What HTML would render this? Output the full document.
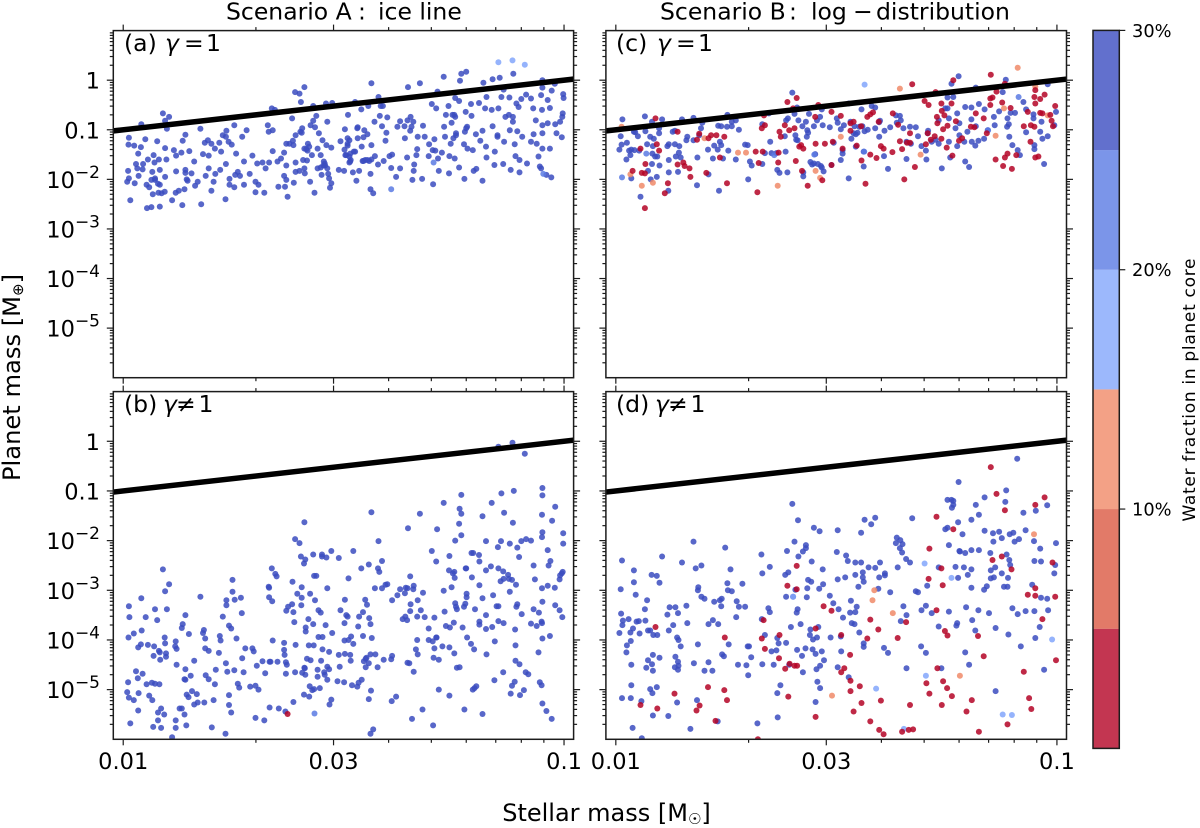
<!DOCTYPE html>
<html lang="en">
<head>
<meta charset="utf-8">
<title>Planet mass versus stellar mass</title>
<style>
html,body{margin:0;padding:0;background:#fff;}
svg{display:block;font-family:"DejaVu Sans","Liberation Sans",sans-serif;fill:#000;}
</style>
</head>
<body>
<svg id="chart" width="1200" height="828" viewBox="0 0 1200 828" xmlns="http://www.w3.org/2000/svg">
<defs id="clips"></defs>
<g id="panels"></g>
<text y="19.5" font-size="23.5"><tspan x="226">Scenario A</tspan><tspan x="358">:</tspan><tspan x="378">ice line</tspan></text>
<text y="19.5" font-size="23.5"><tspan x="660">Scenario B</tspan><tspan x="789">:</tspan><tspan x="811">log</tspan><tspan x="853">−</tspan><tspan x="876">distribution</tspan></text>
<text y="51" font-size="23.5"><tspan x="124">(a)</tspan><tspan x="165" font-style="italic">γ</tspan><tspan x="184">=</tspan><tspan x="206">1</tspan></text>
<text y="412" font-size="23.5"><tspan x="124">(b)</tspan><tspan x="163" font-style="italic">γ</tspan><tspan x="176">≠</tspan><tspan x="198.5">1</tspan></text>
<text y="51" font-size="23.5"><tspan x="616">(c)</tspan><tspan x="657" font-style="italic">γ</tspan><tspan x="676">=</tspan><tspan x="698">1</tspan></text>
<text y="412" font-size="23.5"><tspan x="616">(d)</tspan><tspan x="655" font-style="italic">γ</tspan><tspan x="668">≠</tspan><tspan x="690.5">1</tspan></text>
<text transform="translate(20,377.5) rotate(-90)" font-size="24.2" text-anchor="middle">Planet mass [M<tspan font-size="15" dy="3">⊕</tspan><tspan dy="-3">]</tspan></text>
<text x="606.5" y="821" font-size="24" text-anchor="middle">Stellar mass [M<tspan font-size="15" dy="3">☉</tspan><tspan dy="-3">]</tspan></text>
<g id="colorbar"></g>
<text transform="translate(1195,390) rotate(-90)" font-size="17" text-anchor="middle" textLength="263">Water fraction in planet core</text>
</svg>
<script>
// Each point is [decades above 0.01 solar masses, log10(planet mass in Earth masses)].
const panelADeep = [[.009,-2.05],[.011,-1.83],[.013,-1.98],[.013,-1.16],[.012,-1.30],[.016,-2.42],[.025,-1.32],[.026,-2.08],[.029,-1.69],[.032,-1.78],[.034,-1.48],[.035,-1.93],[.04,-1.35],[.041,-.89],[.044,-1.80],[.045,-1.69],[.05,-1.19],[.054,-2.58],[.056,-1.60],[.053,-2.11],[.059,-2.16],[.064,-2.01],[.064,-2.56],[.066,-1.85],[.067,-2.30],[.069,-1.51],[.071,-1.66],[.072,-1.98],[.077,-1.23],[.079,-2.09],[.083,-1.81],[.083,-2.55],[.081,-1.60],[.087,-2.28],[.09,-.67],[.094,-2.25],[.095,-1.37],[.095,-.82],[.095,-1.95],[.099,-.98],[.098,-1.60],[.104,-.74],[.111,-2.42],[.115,-1.41],[.12,-1.84],[.119,-2.27],[.12,-1.52],[.126,-2.23],[.134,-2.52],[.135,-1.22],[.132,-1.46],[.141,-1.10],[.141,-1.81],[.144,-2.0],[.139,-2.2],[.15,-1.43],[.155,-1.88],[.161,-1.64],[.163,-2.13],[.169,-2.05],[.175,-.98],[.177,-2.5],[.181,-1.49],[.185,-1.26],[.187,-1.93],[.194,-1.52],[.192,-1.21],[.2,-2.23],[.2,-1.28],[.194,-1.78],[.205,-2.05],[.209,-1.89],[.208,-1.38],[.22,-1.81],[.218,-1.26],[.222,-1.44],[.226,-1.11],[.233,-1.69],[.234,-1.02],[.232,-2.4],[.233,-1.14],[.239,-1.24],[.241,-1.99],[.246,-1.30],[.241,-2.11],[.252,-.91],[.252,-2.16],[.256,-1.48],[.254,-1.91],[.26,-1.85],[.265,-1.93],[.27,-1.14],[.274,-1.64],[.274,-2.11],[.28,-1.01],[.287,-1.89],[.293,-1.52],[.3,-2.05],[.3,-2.26],[.304,-1.68],[.307,-2.11],[.316,-1.66],[.32,-2.27],[.323,-1.78],[.328,-.91],[.331,-1.66],[.33,-1.04],[.339,-1.01],[.339,-1.43],[.337,-.57],[.344,-.6],[.35,-1.64],[.352,-2.15],[.358,-1.58],[.367,-2.15],[.365,-1.93],[.365,-1.46],[.37,-1.28],[.37,-1.72],[.373,-2.35],[.377,-1.28],[.37,-2.01],[.385,-1.22],[.383,-.77],[.386,-1.31],[.387,-2.07],[.39,-.24],[.4,-.27],[.411,-.14],[.403,-.44],[.391,-1.66],[.391,-1.85],[.391,-1.11],[.4,-1.83],[.402,-1.04],[.406,-.97],[.405,-1.06],[.408,-1.61],[.411,-1.78],[.412,-1.88],[.415,-1.39],[.417,-1.62],[.419,-1.28],[.422,-1.34],[.424,-2.05],[.425,-.91],[.428,-1.51],[.431,-.82],[.431,-.52],[.434,-2.27],[.435,-.95],[.438,-.72],[.441,-1.78],[.441,-1.38],[.444,-1.07],[.448,-1.76],[.448,-1.51],[.45,-1.91],[.452,-1.21],[.454,-1.72],[.457,-1.68],[.461,-1.31],[.463,-.84],[.46,-.47],[.463,-1.78],[.465,-1.89],[.467,-1.98],[.469,-2.17],[.472,-2.08],[.472,-1.36],[.474,-.46],[.489,-1.81],[.493,-1.23],[.501,-1.83],[.503,-.99],[.502,-1.40],[.506,-1.51],[.509,-1.17],[.51,-.7],[.513,-1.54],[.515,-1.64],[.521,-1.86],[.523,-1.44],[.526,-.44],[.529,-2.03],[.531,-.97],[.535,-1.83],[.541,-1.34],[.54,-.59],[.543,-1.63],[.545,-1.15],[.549,-1.61],[.547,-1.01],[.554,-1.09],[.556,-.52],[.558,-1.63],[.563,-1.31],[.563,-.06],[.561,-2.2],[.567,-2.28],[.561,-1.89],[.571,-1.53],[.57,-.84],[.579,-.34],[.578,-1.70],[.582,-.72],[.587,-.93],[.584,-.52],[.591,-1.63],[.595,-1.22],[.599,-.75],[.597,-1.06],[.604,-1.53],[.608,-1.77],[.61,-1.5],[.619,-1.95],[.622,-.94],[.628,-1.78],[.628,-.83],[.638,-.93],[.639,-1.17],[.644,-1.56],[.646,-.14],[.645,-.81],[.651,-1.02],[.652,-.74],[.658,-.84],[.66,-1.7],[.656,-2.01],[.659,-1.83],[.665,-1.51],[.667,-1.39],[.673,-.06],[.668,-1.14],[.68,-.92],[.678,-1.99],[.684,-1.14],[.693,-1.53],[.694,-1.29],[.7,-.48],[.702,-1.41],[.703,-2.1],[.706,-1.19],[.71,-.57],[.713,-.23],[.714,-1.58],[.716,-1.83],[.723,-1.46],[.727,.07],[.728,-.94],[.73,-1.14],[.732,-.7],[.739,-1.88],[.74,-1.53],[.738,-.52],[.743,-1.28],[.745,-.86],[.751,-.7],[.753,-.36],[.752,-1.58],[.755,-1.07],[.762,-.42],[.767,.13],[.778,.17],[.764,-.01],[.762,-1.76],[.773,-1.29],[.774,-1.99],[.777,-.64],[.78,-.94],[.781,-1.38],[.789,-.48],[.793,-1.41],[.795,-1.83],[.8,-1.09],[.79,-.72],[.801,-1.79],[.807,-.46],[.81,-1.22],[.815,-1.02],[.815,-2.03],[.817,-.05],[.821,-.57],[.823,-1.34],[.824,-.34],[.824,-1.56],[.836,-.6],[.838,-.93],[.838,.02],[.843,-1.44],[.842,-1.71],[.849,-1.11],[.851,-.57],[.854,.05],[.858,-.34],[.862,-1.69],[.863,-.19],[.864,-1.24],[.867,-.74],[.876,-.35],[.877,-1.01],[.885,.13],[.888,-1.29],[.892,-.47],[.894,-1.03],[.884,-.84],[.879,-1.81],[.89,-1.53],[.897,-.54],[.899,-1.61],[.903,-.38],[.905,-1.14],[.899,-1.86],[.914,-.29],[.916,-1.68],[.925,-.37],[.925,-1.24],[.93,-.57],[.931,-1.09],[.938,-1.28],[.936,-.81],[.942,-1.54],[.945,-1.74],[.948,-1.78],[.951,0],[.951,-.15],[.948,-.3],[.95,-.6],[.951,-.91],[.951,-1.07],[.951,-1.38],[.96,-1.91],[.963,-.4],[.963,-.87],[.968,-.56],[.968,-1.38],[.971,-1.96],[.972,-.21],[.98,-.89],[.979,-.07],[.983,-1.07],[.991,-.84],[.996,-.74],[.995,-1.15],[.997,-.67],[.998,-.28],[.999,-.36],[.753,-.74],[.747,-.7],[.589,-.52],[.654,-.94],[.708,-1.42],[.749,-1.17],[.755,-1.11],[.775,-1.04],[.778,-.97],[.884,-.74],[.875,-.7],[.532,-.95],[.532,-1.17],[.513,-1.21],[.509,-1.28],[.509,-1.32],[.504,-1.51],[.515,-1.48],[.516,-1.61],[.513,-1.66],[.526,-1.44],[.411,-1.38],[.418,-1.42],[.458,-1.72],[.455,-1.64],[.072,-2.01],[.083,-2.11],[.08,-2.27],[.141,-1.87],[.146,-2.03],[.545,-1.63],[.554,-1.61],[.563,-1.6],[.849,-1.14]];
const panelAMid = [[.608,-2.2],[.953,-1.89],[.704,-1.66]];
const panelAPale = [[.851,.36],[.883,.40],[.911,.31]];

const panelBDeep = [[.009,-5.05],[.013,-5.16],[.024,-5.21],[.034,-5.42],[.016,-5.68],[.011,-4.85],[.012,-3.95],[.024,-3.87],[.014,-3.54],[.013,-3.32],[.041,-3.16],[.051,-3.54],[.042,-3.81],[.04,-4.09],[.034,-4.15],[.056,-4.1],[.029,-4.63],[.044,-4.68],[.033,-4.77],[.053,-4.89],[.065,-4.86],[.082,-4.89],[.072,-4.88],[.035,-5.07],[.059,-5.12],[.066,-5.21],[.079,-5.46],[.086,-5.38],[.093,-5.5],[.079,-5.62],[.068,-5.75],[.086,-5.77],[.119,-5.62],[.119,-5.77],[.111,-5.96],[.143,-5.72],[.139,-5.5],[.133,-5.38],[.128,-5.38],[.144,-5.1],[.148,-5.15],[.156,-5.03],[.167,-5.09],[.169,-5.26],[.161,-5.3],[.184,-5.26],[.205,-5.21],[.201,-5.76],[.232,-5.89],[.24,-5.31],[.245,-5.46],[.24,-5.11],[.263,-4.96],[.26,-4.88],[.288,-4.94],[.3,-4.92],[.307,-5],[.3,-5.57],[.32,-5.62],[.332,-5.36],[.353,-5.38],[.368,-5.44],[.386,-5.25],[.41,-5.1],[.422,-5.14],[.423,-4.93],[.429,-5.01],[.433,-4.99],[.446,-4.97],[.468,-5.3],[.472,-5.2],[.557,-5.19],[.561,-5.89],[.567,-5.8],[.609,-5.23],[.619,-5.14],[.655,-5.59],[.679,-5.4],[.703,-5.72],[.716,-5],[.74,-5.12],[.774,-5.4],[.815,-5.49],[.793,-5],[.801,-4.93],[.797,-4.97],[.879,-5.08],[.9,-5.11],[.909,-5.01],[.882,-4.92],[.888,-4.84],[.842,-4.81],[.862,-4.65],[.89,-4.42],[.899,-4.49],[.913,-4.65],[.919,-4.69],[.945,-4.85],[.949,-4.91],[.951,-5.28],[.96,-5.43],[.972,-5.59],[.072,-3.38],[.077,-3.6],[.09,-2.58],[.095,-3.02],[.104,-2.88],[.099,-3.38],[.094,-3.95],[.095,-4.07],[.119,-4.03],[.121,-4.18],[.118,-4.13],[.097,-4.27],[.097,-4.34],[.084,-4.4],[.069,-4.32],[.07,-4.13],[.081,-4.22],[.083,-4.25],[.121,-4.5],[.141,-4.59],[.153,-4.72],[.139,-4.79],[.141,-4.8],[.133,-3.76],[.135,-3.68],[.141,-3.5],[.149,-3.88],[.161,-4.42],[.175,-3.13],[.181,-3.86],[.183,-3.8],[.186,-3.97],[.186,-4.17],[.194,-4.22],[.187,-4.71],[.194,-4.79],[.208,-4.89],[.217,-4.26],[.21,-4.6],[.219,-3.92],[.221,-4.01],[.226,-3.53],[.234,-3.3],[.234,-3.2],[.24,-3.71],[.245,-3.77],[.248,-2.79],[.248,-3.03],[.253,-3.19],[.257,-3.97],[.233,-4.47],[.236,-4.64],[.252,-4.61],[.273,-4.65],[.27,-4.37],[.277,-4.17],[.267,-3.15],[.269,-3.46],[.293,-4.17],[.296,-4.23],[.303,-4.52],[.316,-4.43],[.322,-4.67],[.332,-4.44],[.334,-4.44],[.33,-2.93],[.331,-2.95],[.331,-3.14],[.338,-3.22],[.337,-2.56],[.345,-2.67],[.348,-2.72],[.339,-4.01],[.35,-4.44],[.365,-4.2],[.365,-4.06],[.366,-4.3],[.369,-4.45],[.371,-4.5],[.369,-4.68],[.37,-3.41],[.374,-3.33],[.384,-2.83],[.383,-3.28],[.386,-3.44],[.388,-3.64],[.391,-4.1],[.39,-4.65],[.406,-4.66],[.405,-2.94],[.405,-3.15],[.395,-3.07],[.404,-3.3],[.414,-3.75],[.414,-3.83],[.42,-3.58],[.421,-4.11],[.424,-3.07],[.411,-4.56],[.412,-4.57],[.413,-4.7],[.417,-4.38],[.425,-4.41],[.432,-4.11],[.431,-3.68],[.431,-2.28],[.403,-2.32],[.411,-1.63],[.39,-1.97],[.4,-2.05],[.41,-2.46],[.413,-2.38],[.433,-2.71],[.438,-2.71],[.435,-3.2],[.443,-3.4],[.448,-3.45],[.443,-3.94],[.452,-3.94],[.459,-3.7],[.451,-2.28],[.451,-2.32],[.461,-2.34],[.472,-2.21],[.489,-2.35],[.463,-2.96],[.452,-4.19],[.467,-4.24],[.449,-4.42],[.441,-4.6],[.441,-4.74],[.457,-4.7],[.456,-4.65],[.463,-4.54],[.467,-4.59],[.463,-4.8],[.474,-3.86],[.489,-4.3],[.491,-4.54],[.486,-4.83],[.501,-4.85],[.519,-4.91],[.531,-4.94],[.534,-4.86],[.541,-4.8],[.562,-5.02],[.493,-3.4],[.503,-3.19],[.511,-2.76],[.506,-3.5],[.509,-3.53],[.502,-3.66],[.502,-4.01],[.511,-4],[.517,-3.93],[.522,-4.08],[.533,-3.73],[.535,-3.53],[.544,-3.44],[.549,-3.19],[.553,-3.29],[.558,-3.56],[.561,-3.68],[.564,-3.96],[.544,-3.92],[.503,-4.28],[.515,-4.3],[.516,-4.42],[.546,-4.43],[.55,-4.38],[.552,-4.36],[.557,-4.47],[.55,-4.55],[.561,-4.29],[.572,-4.29],[.577,-4.55],[.591,-4.4],[.61,-4.32],[.608,-4.39],[.522,-2.21],[.54,-2.56],[.557,-2.48],[.563,-1.43],[.578,-2.56],[.581,-2.63],[.587,-2.41],[.579,-2.01],[.571,-2.96],[.587,-2.96],[.595,-2.89],[.599,-2.88],[.61,-3.2],[.622,-3.1],[.628,-2.98],[.639,-3.06],[.641,-2.95],[.645,-2.96],[.651,-2.72],[.659,-2.91],[.658,-2.98],[.652,-3.28],[.651,-3.42],[.634,-3.58],[.64,-3.53],[.644,-3.6],[.668,-3.2],[.68,-3.05],[.684,-3.54],[.675,-3.4],[.667,-3.53],[.693,-3.77],[.706,-3.55],[.693,-4],[.702,-4.03],[.71,-3.95],[.706,-4.17],[.711,-3.95],[.724,-4.13],[.74,-4.15],[.751,-4.27],[.667,-4],[.664,-4.19],[.668,-4.29],[.649,-4.47],[.645,-4.46],[.659,-4.64],[.704,-4.36],[.716,-4.4],[.757,-4.56],[.763,-4.55],[.673,-1.46],[.646,-1.75],[.727,-1.24],[.712,-1.77],[.7,-2.21],[.71,-2.42],[.739,-2.6],[.748,-2.66],[.752,-2.75],[.751,-2.63],[.753,-2],[.74,-2.31],[.767,-1.08],[.763,-1.36],[.767,-1.46],[.762,-1.66],[.767,-1.89]];
const panelBDeepRight = [[.778,-2.56],[.777,-2.56],[.79,-2.25],[.794,-2.25],[.791,-2.74],[.807,-2.29],[.808,-2.42],[.808,-2.9],[.815,-1.51],[.823,-2.01],[.836,-1.24],[.834,-2.52],[.823,-2.6],[.815,-3.16],[.798,-3.38],[.753,-3.26],[.755,-3.33],[.757,-3.38],[.773,-3.33],[.776,-3.27],[.779,-3.07],[.779,-3.14],[.727,-3.01],[.745,-2.94],[.729,-3.43],[.732,-3.72],[.741,-3.75],[.75,-3.65],[.77,-3.75],[.78,-3.95],[.789,-4.08],[.796,-4.19],[.824,-4.29],[.808,-3.63],[.808,-3.69],[.823,-3.5],[.823,-3.78],[.837,-3.74],[.843,-4.03],[.839,-3.1],[.847,-3.32],[.851,-3.32],[.851,-3.62],[.863,-3.66],[.864,-1.44],[.858,-1.05],[.886,-1.0],[.884,-1.64],[.857,-2.01],[.85,-2.13],[.877,-2.06],[.894,-2.14],[.898,-2.33],[.903,-2.01],[.914,-1.97],[.925,-2],[.851,-2.56],[.862,-2.62],[.856,-2.82],[.863,-2.77],[.873,-2.69],[.875,-2.77],[.882,-2.79],[.891,-2.89],[.877,-3.03],[.892,-3.33],[.894,-3.28],[.904,-3.48],[.889,-3.79],[.89,-4.11],[.925,-3.67],[.938,-3.72],[.931,-2.5],[.934,-2.78],[.931,-3.38],[.943,-3.45],[.949,-3.63],[.951,-.94],[.951,-1.09],[.95,-1.48],[.95,-1.93],[.951,-1.83],[.963,-2.19],[.973,-1.6],[.98,-1.32],[.969,-2.41],[.965,-2.5],[.963,-2.91],[.951,-3.23],[.95,-2.96],[.95,-3.66],[.951,-3.97],[.968,-3.92],[.942,-4.25],[.979,-2.95],[.98,-3.3],[.99,-3.4],[.996,-3.54],[.99,-2.78],[.995,-2.66],[.997,-2.63],[.991,-2.7],[.998,-1.85],[.998,-2.06],[.851,-.11],[.883,-.03],[.911,-.25]];
const panelBMid = [[.434,-5.48]];
const panelBRed = [[.373,-5.49]];

const panelCDeep = [[.008,-1.40],[.011,-1.13],[.013,-1.30],[.015,-.79],[.024,-1.60],[.025,-1.26],[.03,-1.42],[.033,-1.51],[.035,-1.98],[.035,-1.40],[.041,-1.04],[.044,-1.05],[.042,-1.41],[.05,-1.13],[.053,-1.42],[.056,-2.35],[.066,-.73],[.071,-1.29],[.067,-1.03],[.073,-1.83],[.079,-2.0],[.078,-1.14],[.082,-1.69],[.083,-1.48],[.084,-1.33],[.086,-1.18],[.082,-.84],[.089,-1.54],[.094,-1.54],[.093,-1.95],[.099,-1.72],[.098,-1.07],[.105,-.79],[.098,-.97],[.12,-1.29],[.12,-1.86],[.119,-2.23],[.117,-1.33],[.12,-1.61],[.129,-1.04],[.134,-1.02],[.134,-1.29],[.136,-1.54],[.141,-1.85],[.143,-1.46],[.144,-1.33],[.147,-1.56],[.15,-.79],[.162,-1.14],[.16,-1.21],[.176,-.76],[.176,-1.21],[.185,-1.56],[.184,-2.12],[.189,-1.11],[.193,-.97],[.196,-.86],[.209,-1.40],[.21,-1.90],[.22,-1.58],[.223,-1.32],[.231,-1.40],[.234,-2.23],[.232,-.92],[.236,-1.24],[.239,-1.31],[.239,-.93],[.243,-1.58],[.252,-.94],[.253,-.70],[.263,-.93],[.272,-.81],[.272,-1.60],[.279,-1.0],[.255,-1.42],[.263,-.84],[.293,-1.30],[.299,-1.31],[.3,-2.0],[.304,-1.64],[.308,-1.72],[.332,-.89],[.332,-1.69],[.338,-1.47],[.347,-.67],[.35,-1.24],[.353,-1.47],[.364,-1.47],[.366,-1.81],[.371,-1.87],[.385,-1.44],[.383,-1.13],[.386,-.81],[.39,-.77],[.389,-1.86],[.4,-.25],[.405,-.68],[.407,-1.11],[.411,-.55],[.409,-1.2],[.414,-.81],[.412,-1.21],[.423,-.93],[.425,-1.86],[.425,-1.94],[.431,-.84],[.434,-1.01],[.433,-1.14],[.436,-1.06],[.438,-.68],[.441,-1.65],[.445,-1.70],[.449,-.93],[.449,-1.68],[.452,-1.49],[.456,-.81],[.458,-1.69],[.463,-.74],[.465,-1.73],[.467,-1.76],[.469,-.91],[.471,-1.84],[.467,-.59],[.485,-.95],[.494,-1.26],[.489,-1.71],[.503,-.86],[.501,-.77],[.51,-.99],[.514,-1.41],[.514,-1.48],[.51,-1.61],[.517,-.91],[.528,-1.98],[.528,-.47],[.532,-.84],[.534,-1.18],[.539,-1.07],[.541,-.93],[.544,-1.34],[.544,-1.09],[.548,-1.06],[.552,-.94],[.557,-.59],[.559,-.93],[.562,-1.44],[.562,-1.74],[.564,-1.03],[.571,-1.0],[.58,-.52],[.588,-.55],[.588,-.97],[.597,-1.14],[.597,-.85],[.599,-.82],[.609,-1.02],[.608,-1.53],[.617,-1.79],[.622,-.95],[.635,-.71],[.637,-.86],[.644,-.72],[.646,-.81],[.652,-.97],[.659,-1.59],[.659,-1.24],[.667,-.94],[.669,-1.28],[.68,-.95],[.685,-1.13],[.693,-1.33],[.703,-1.42],[.704,-1.6],[.708,-1.02],[.707,-1.07],[.716,-1.24],[.725,-1.2],[.732,-.81],[.732,-1.28],[.739,-1.78],[.747,-.57],[.752,-.57],[.755,-.77],[.755,-1.24],[.758,-1.56],[.752,-.35],[.765,-.34],[.761,-.07],[.777,.08],[.77,-.97],[.774,-.67],[.774,-1.33],[.779,-1.11],[.779,-.87],[.792,-.54],[.792,-1.64],[.79,-1.24],[.797,-1.04],[.801,-1.75],[.806,-.55],[.806,-.79],[.807,-1.24],[.815,-1.32],[.816,-.15],[.816,-.93],[.822,-1.22],[.823,-.48],[.836,-.59],[.835,-1.18],[.843,-1.01],[.857,-.74],[.859,-.91],[.869,-.63],[.877,-.24],[.884,.01],[.888,-.77],[.887,-.94],[.892,-1.14],[.891,-.89],[.895,-.66],[.899,-1.31],[.905,-.66],[.911,-1.41],[.916,-1.51],[.924,-.44],[.93,-.59],[.93,-1.05],[.947,-.69],[.947,-.77],[.949,-1.31],[.949,-1.39],[.962,-1.04],[.965,-.84],[.967,-1.18],[.971,-1.69],[.979,-1.13],[.979,-.08],[.994,-.91],[.998,-.64]];
const panelCMid = [[.014,-1.96],[.069,-1.48],[.563,-1.44],[.45,-1.5],[.359,-1.51],[.913,-.34],[.844,-1.01]];
const panelCPale = [[.564,-.09]];
const panelCCoral = [[.033,-1.9],[.059,-2.13],[.084,-2.07],[.013,-.94],[.277,-1.46],[.295,-1.46],[.201,-1.17],[.367,-2.13],[.453,-1.83],[.463,-1.97],[.51,-1.14],[.644,-.17],[.691,-1.5],[.911,.25],[.88,-.57],[.861,-1.12],[.979,-.71],[.951,-.13]];
const panelCRed = [[.038,-1.83],[.056,-1.38],[.059,-1.87],[.066,-1.88],[.067,-1.69],[.066,-2.58],[.09,-.77],[.093,-1.29],[.098,-1.42],[.111,-2.28],[.118,-2.08],[.14,-1.04],[.14,-1.70],[.153,-1.66],[.156,-1.73],[.167,-1.78],[.169,-1.95],[.184,-1.20],[.189,-1.08],[.205,-1.87],[.21,-1.17],[.216,-1.11],[.228,-1.11],[.236,-1.56],[.246,-1.14],[.252,-2.08],[.317,-1.44],[.321,-2.26],[.324,-1.67],[.333,-1.44],[.331,-.97],[.338,-.91],[.336,-.71],[.369,-1.46],[.368,-1.66],[.371,-1.04],[.374,-1.14],[.383,-.91],[.389,-.44],[.393,-1.01],[.405,-.97],[.402,-.57],[.41,-.36],[.408,-1.63],[.416,-1.34],[.42,-1.31],[.425,-1.38],[.422,-1.83],[.435,-2.13],[.452,-.74],[.453,-1.28],[.459,-.5],[.468,-2.02],[.474,-1.28],[.489,-.64],[.492,-1.24],[.489,-1.71],[.51,-.72],[.514,-1.38],[.532,-.87],[.532,-1.02],[.539,-.84],[.546,-1.32],[.556,-.93],[.557,-1.62],[.566,-2.09],[.57,-.74],[.577,-.69],[.583,-.65],[.577,-1.5],[.591,-1.57],[.596,-.84],[.601,-1.33],[.607,-1.38],[.627,-1.45],[.628,-.67],[.64,-.9],[.644,-1.23],[.649,-1.39],[.654,-2.0],[.66,-1.26],[.667,-1.26],[.667,-1.07],[.672,-.08],[.678,-1.75],[.7,-.42],[.703,-1.29],[.707,-1.07],[.709,-.5],[.714,-1.2],[.723,-1.13],[.725,-.24],[.728,-.74],[.729,-.87],[.738,-.47],[.738,-1.18],[.739,-.62],[.745,-.71],[.75,-1.36],[.742,-.99],[.752,-.92],[.761,-.47],[.763,-1.52],[.765,0],[.771,-.83],[.778,-1.22],[.785,-1.17],[.805,-.94],[.813,-.95],[.816,-.67],[.834,-.77],[.841,-1.07],[.85,.11],[.849,-.37],[.854,-.35],[.849,-.5],[.861,-1.6],[.863,-.23],[.876,-.45],[.878,-1.73],[.882,-1.56],[.882,-.07],[.888,-1.48],[.895,-.56],[.898,-1.79],[.908,-1.51],[.925,-.93],[.934,-.64],[.94,-1.24],[.941,-.91],[.949,-.94],[.951,-1.56],[.958,-1.54],[.949,-.34],[.951,-.2],[.951,-.47],[.962,-.38],[.962,-.66],[.967,-.67],[.972,-.29],[.985,-.7],[.988,-.82],[.991,-.93],[.996,-.52]];

const panelDDeep = [[.008,-3.86],[.011,-2.98],[.012,-3.47],[.015,-3.7],[.014,-2.4],[.016,-3.61],[.014,-5.17],[.025,-4.11],[.024,-4.25],[.029,-3.58],[.033,-3.85],[.034,-4.02],[.035,-4.5],[.035,-4.91],[.034,-5.17],[.038,-5.77],[.039,-3.77],[.041,-2.6],[.041,-2.84],[.045,-3.09],[.047,-3.63],[.052,-3.62],[.054,-3.87],[.059,-5.98],[.058,-5.23],[.066,-3.38],[.067,-3.61],[.071,-3.2],[.073,-3.81],[.078,-3.81],[.073,-4.41],[.069,-4.56],[.082,-4.49],[.084,-4.3],[.084,-4.62],[.078,-4.99],[.083,-5.07],[.093,-4.95],[.085,-3.9],[.094,-3.9],[.099,-4.36],[.084,-5.52],[.081,-2.69],[.093,-2.71],[.099,-2.85],[.105,-2.32],[.117,-3.49],[.12,-3.81],[.122,-3.34],[.119,-5.53],[.13,-3.7],[.135,-3.34],[.141,-3.46],[.139,-3.95],[.142,-4],[.147,-4.13],[.135,-4.34],[.141,-4.44],[.142,-4.52],[.134,-4.55],[.141,-4.6],[.139,-5.26],[.15,-2.44],[.162,-3.66],[.16,-3.31],[.176,-2.02],[.177,-4.47],[.169,-5.79],[.181,-2.56],[.184,-5.21],[.186,-4.09],[.186,-3.0],[.187,-2.94],[.194,-2.5],[.194,-3.13],[.201,-3.17],[.201,-4.62],[.21,-3.68],[.21,-4.45],[.219,-4.62],[.22,-3.6],[.223,-3.23],[.232,-3.68],[.231,-5.64],[.239,-3.32],[.24,-3.17],[.236,-3.2],[.241,-4.29],[.245,-4.33],[.248,-2.14],[.253,-2.86],[.254,-3.0],[.256,-4.09],[.263,-3.02],[.26,-2.58],[.273,-3.54],[.274,-3.22],[.279,-3.33],[.287,-2.87],[.277,-4.5],[.296,-4.51],[.293,-3.33],[.299,-4.13],[.302,-4.13],[.3,-4.71],[.307,-4.35],[.321,-5.68],[.33,-2.28],[.332,-2.66],[.331,-3.58],[.332,-4.49],[.338,-3.9],[.346,-3.36],[.349,-2.53],[.349,-3.44],[.353,-4.23],[.358,-4.5],[.364,-4.21],[.366,-3.96],[.366,-5.07],[.367,-5.56],[.369,-4.07],[.373,-4.91],[.384,-2.69],[.386,-3.13],[.388,-2.21],[.391,-2.64],[.386,-4.06],[.393,-4.5],[.397,-3.74],[.4,-1.26],[.405,-2.02],[.402,-3.13],[.407,-2.99],[.41,-3.45],[.412,-3.38],[.411,-4.2],[.413,-1.59],[.414,-2.32],[.419,-3.68],[.422,-4.32],[.424,-2.22],[.424,-4.65],[.43,-4.17],[.431,-2.09],[.431,-2.15],[.434,-2.96],[.433,-3.14],[.436,-2.79],[.443,-2.83],[.444,-2.42],[.441,-3.79],[.44,-3.9],[.447,-3.99],[.446,-4.19],[.453,-4.28],[.449,-1.74],[.462,-1.81],[.456,-3.95],[.459,-3.74],[.461,-2.97],[.453,-5.25],[.455,-4.59],[.457,-4.84],[.463,-4.52],[.463,-4.97],[.467,-4.23],[.469,-2.58],[.47,-2.88],[.472,-4.41],[.485,-3.11],[.487,-3.95],[.493,-3.26],[.501,-2.23],[.503,-1.79],[.503,-2.78],[.505,-3.38],[.503,-4.55],[.51,-3.93],[.511,-4.23],[.515,-3.55],[.52,-2.74],[.522,-2.3],[.526,-2.41],[.528,-4.75],[.533,-3.21],[.531,-3.45],[.535,-3.66],[.541,-3.68],[.543,-3.44],[.543,-2.69],[.543,-2.44],[.546,-3.33],[.552,-3.85],[.55,-2.93],[.556,-1.84],[.556,-2.44],[.56,-2.64],[.56,-2.74],[.562,-2.83],[.562,-4.07],[.562,-4.14],[.564,-1.58],[.573,-2.54],[.579,-1.67],[.588,-1.54],[.588,-2.55],[.595,-2.97],[.597,-2.74],[.599,-2.44],[.608,-4.16],[.61,-2.66],[.61,-2.7],[.617,-4.26],[.622,-3.04],[.639,-2.54],[.637,-1.94],[.635,-2.05],[.646,-3.62],[.645,-1.99],[.65,-2.07],[.644,-2.15],[.649,-2.24],[.659,-3.5],[.652,-3.32],[.658,-2.37],[.659,-4.57],[.667,-2.44],[.672,-1.55],[.68,-3.02],[.685,-3.04],[.692,-4.13],[.693,-3.4],[.703,-3.31],[.703,-4.26],[.706,-2.91],[.716,-3.46],[.732,-2.54],[.732,-3.73],[.738,-4.57],[.747,-1.77],[.752,-1.74],[.752,-1.18],[.761,-1.18],[.765,-1.2],[.765,-1.28],[.762,-1.34],[.755,-2.09],[.755,-3.43],[.77,-2.53],[.774,-3.66],[.772,-3.71],[.776,-2.75],[.776,-1.63],[.777,-.82],[.779,-2.21],[.78,-2.22],[.786,-1.87],[.789,-2.54],[.792,-2.25],[.794,-3.34],[.792,-4.25],[.801,-4.5],[.798,-2.69],[.806,-2.95],[.806,-1.58],[.806,-2.19],[.808,-3.6],[.815,-3.81],[.806,-2.58],[.816,-1.28],[.822,-3.4],[.823,-2.19],[.823,-1.48],[.836,-1.13],[.836,-1.8],[.841,-2.92],[.835,-2.99],[.846,-3.46],[.849,-2.25],[.85,-2.6],[.85,-2.76],[.855,-1.85],[.856,-2.02],[.857,-2.74],[.861,-3.76],[.861,-5.03],[.86,-2.54],[.869,-1.82],[.875,-1.95],[.875,-2.66],[.88,-2.93],[.883,-1.22],[.885,-.99],[.888,-2.93],[.886,-2.28],[.892,-2.39],[.894,-2.49],[.893,-1.87],[.889,-2.75],[.89,-3.89],[.899,-3.36],[.901,-1.84],[.904,-2.02],[.911,-3.48],[.914,-1.97],[.918,-4.13],[.924,-1.44],[.929,-1.79],[.929,-3.42],[.948,-2.01],[.949,-2.41],[.949,-3.42],[.951,-3.96],[.952,-1.4],[.944,-2.89],[.962,-2.16],[.964,-2.42],[.961,-3.74],[.964,-3.15],[.971,-4.6],[.978,-3.17],[.978,-1.29],[.98,-3.4],[.994,-2.66],[.996,-2.49],[.998,-2.05],[.91,-.35]];
const panelDMid = [[.402,-3.13],[.59,-4.98],[.7,-2.46],[.761,-2.75],[.703,-4.72],[.653,-5.79],[.877,-5.5],[.898,-5.51],[.989,-3.99]];
const panelDCoral = [[.49,-5.12],[.582,-3.2],[.586,-3.0],[.628,-3.46],[.78,-4.72],[.948,-1.87]];
const panelDRed = [[.056,-5.31],[.09,-3.74],[.094,-5.38],[.133,-5.08],[.183,-5.42],[.19,-5.32],[.209,-4.95],[.226,-5.63],[.246,-5.01],[.247,-3.95],[.252,-5.21],[.322,-6.0],[.331,-3.97],[.335,-3.6],[.338,-4.18],[.371,-3.9],[.37,-4.37],[.384,-4.58],[.389,-2.91],[.391,-5.14],[.394,-4.48],[.405,-4.52],[.411,-4.52],[.41,-2.98],[.41,-2.51],[.453,-3.77],[.453,-5.55],[.471,-3.32],[.489,-3.41],[.511,-3.9],[.511,-4.65],[.518,-4.57],[.531,-4.3],[.532,-4.82],[.532,-5.03],[.539,-5.44],[.553,-4.93],[.557,-5.27],[.57,-3.97],[.577,-3.59],[.577,-5.64],[.595,-3.79],[.597,-5.81],[.601,-5.22],[.607,-5.9],[.639,-3.96],[.649,-5.85],[.658,-3.64],[.664,-5.81],[.667,-5.31],[.674,-5.8],[.704,-4.87],[.709,-2.77],[.711,-2.16],[.711,-5.08],[.727,-3.4],[.727,-1.52],[.729,-4.57],[.738,-2.56],[.739,-5.31],[.741,-2.9],[.742,-4.83],[.746,-3.82],[.751,-4.97],[.752,-3.91],[.762,-5.13],[.765,-1.77],[.795,-5.44],[.807,-5.21],[.821,-3.92],[.823,-5.85],[.834,-4.33],[.85,-.52],[.854,-2.39],[.863,-1.06],[.875,-2.32],[.882,-1.39],[.888,-5.7],[.897,-2.58],[.925,-4.64],[.934,-3.09],[.937,-5.17],[.942,-5.39],[.951,-2.96],[.951,-3.11],[.951,-1.28],[.967,-3.58],[.972,-1.13],[.99,-2.44],[.996,-3.13],[.998,-4.41]];

const thresholdStellarDex = [-0.1, 1.1];
const thresholdPlanetLog = [-1.1, 0.1];
const xMajorTicks = [0.01, 0.03, 0.1];
const xMajorLabels = ['0.01', '0.03', '0.1'];
const xMinorTicks = [0.02, 0.04, 0.05, 0.06, 0.07, 0.08, 0.09];
const yMajorTicks = [0, -1, -2, -3, -4, -5];
const yMinorMultipliers = [2, 3, 4, 5, 6, 7, 8, 9];
const yDecades = [-6, -5, -4, -3, -2, -1, 0];
const waterEdges = [0, 5, 10, 15, 20, 25, 30];
const waterTicks = [10, 20, 30];
const waterTickLabels = ['10%', '20%', '30%'];
const waterBinColors = ['#b40426', '#db5942', '#f08968', '#83a6fb', '#5a7ae3', '#3b4cc0'];

const SVG_NS = 'http://www.w3.org/2000/svg';
function waterColor(fraction) {
  const index = Math.min(waterBinColors.length - 1, Math.floor(fraction / 5));
  return waterBinColors[index];
}
function make(parent, tag, attrs) {
  const node = document.createElementNS(SVG_NS, tag);
  Object.keys(attrs).forEach(function (key) { node.setAttribute(key, attrs[key]); });
  parent.appendChild(node);
  return node;
}
const xDomain = [-0.0225, 1.0217];
const yDomain = [-6, 1];
function xScale(box, dex) {
  return box.left + (dex - xDomain[0]) / (xDomain[1] - xDomain[0]) * box.width;
}
function yScale(box, logValue) {
  return box.top + (yDomain[1] - logValue) / (yDomain[1] - yDomain[0]) * box.height;
}
const panels = [
  { id: 'a', left: 113.3, top: 30.6, width: 460.3, height: 347.1, showY: true, showX: false,
    series: [[panelADeep, 27], [panelAMid, 22], [panelAPale, 17]] },
  { id: 'b', left: 113.3, top: 391.6, width: 460.3, height: 347.7, showY: true, showX: true,
    series: [[panelBDeep, 27], [panelBDeepRight, 27], [panelBMid, 22], [panelBRed, 2]] },
  { id: 'c', left: 605.9, top: 30.6, width: 460.6, height: 347.1, showY: false, showX: false,
    series: [[panelCDeep, 27], [panelCMid, 22], [panelCPale, 17], [panelCCoral, 12], [panelCRed, 2]] },
  { id: 'd', left: 605.9, top: 391.6, width: 460.6, height: 347.7, showY: false, showX: true,
    series: [[panelDDeep, 27], [panelDMid, 17], [panelDCoral, 12], [panelDRed, 2]] }
];
const panelsRoot = document.getElementById('panels');
const clips = document.getElementById('clips');

panels.forEach(function (box) {
  const group = make(panelsRoot, 'g', {});
  
  

  const clip = make(clips, 'clipPath', { id: 'clip-' + box.id });
  make(clip, 'rect', { x: box.left, y: box.top, width: box.width, height: box.height });

  const points = make(group, 'g', { 'clip-path': 'url(#clip-' + box.id + ')' });
  
  

  box.series.forEach(function (entry) {
    const values = entry[0];
    const water = entry[1];
    values.forEach(function (value) {
      const dot = make(points, 'circle', {
        cx: xScale(box, value[0]).toFixed(1),
        cy: yScale(box, value[1]).toFixed(1),
        r: 3,
        fill: waterColor(water),
        'fill-opacity': 0.85
      });
      
      
    });
  });

  const threshold = make(points, 'line', {
    x1: xScale(box, thresholdStellarDex[0]),
    y1: yScale(box, thresholdPlanetLog[0]),
    x2: xScale(box, thresholdStellarDex[1]),
    y2: yScale(box, thresholdPlanetLog[1]),
    stroke: '#000',
    'stroke-width': 5.5
  });
  
  

  const frame = make(group, 'rect', {
    x: box.left, y: box.top, width: box.width, height: box.height,
    fill: 'none', stroke: '#1c1c1c', 'stroke-width': 1.5
  });
  
  

  const ticks = make(group, 'g', { stroke: '#1c1c1c', 'stroke-width': 1.2 });
  
  
  const bottom = box.top + box.height;
  const right = box.left + box.width;

  function xTick(mass, size) {
    const px = xScale(box, Math.log10(mass) + 2);
    make(ticks, 'line', { x1: px, x2: px, y1: box.top, y2: box.top - size });
    make(ticks, 'line', { x1: px, x2: px, y1: bottom, y2: bottom + size });
  }
  xMajorTicks.forEach(function (mass) { xTick(mass, 6); });
  xMinorTicks.forEach(function (mass) { xTick(mass, 3.5); });

  function yTick(logValue, size) {
    const py = yScale(box, logValue);
    make(ticks, 'line', { x1: box.left, x2: box.left - size, y1: py, y2: py });
    make(ticks, 'line', { x1: right, x2: right + size, y1: py, y2: py });
  }
  yMajorTicks.forEach(function (logValue) { yTick(logValue, 6.5); });
  yDecades.forEach(function (decade) {
    yMinorMultipliers.forEach(function (multiplier) {
      yTick(decade + Math.log10(multiplier), 3.5);
    });
  });

  if (box.showX) {
    xMajorTicks.forEach(function (mass, index) {
      const label = make(group, 'text', {
        x: xScale(box, Math.log10(mass) + 2), y: 769,
        'font-size': 22.5, 'text-anchor': 'middle'
      });
      label.textContent = xMajorLabels[index];
      
      
    });
  }
  if (box.showY) {
    yMajorTicks.forEach(function (logValue) {
      const py = yScale(box, logValue);
      const label = make(group, 'text', {
        x: 100, y: py + 8.5, 'font-size': 22.5, 'text-anchor': 'end'
      });
      
      
      if (logValue === 0) {
        label.textContent = '1';
      } else if (logValue === -1) {
        label.textContent = '0.1';
      } else {
        label.textContent = '10';
        const exponent = make(label, 'tspan', { 'font-size': 17, dy: -10 });
        exponent.textContent = '\u2212' + Math.abs(logValue);
      }
    });
  }
});

const barBox = { left: 1093, width: 26.3, top: 30.4, height: 718 };
function barY(fraction) {
  return barBox.top + (30 - fraction) / 30 * barBox.height;
}
const colorbarRoot = document.getElementById('colorbar');
waterBinColors.forEach(function (color, index) {
  const segment = make(colorbarRoot, 'rect', {
    x: barBox.left,
    y: barY(waterEdges[index + 1]),
    width: barBox.width,
    height: barY(waterEdges[index]) - barY(waterEdges[index + 1]),
    fill: color,
    'fill-opacity': 0.8
  });
  
  
});
const barFrame = make(colorbarRoot, 'rect', {
  x: barBox.left, y: barBox.top, width: barBox.width, height: barBox.height,
  fill: 'none', stroke: '#1c1c1c', 'stroke-width': 1.5
});


waterTicks.forEach(function (fraction, index) {
  const py = barY(fraction);
  const tick = make(colorbarRoot, 'line', {
    x1: barBox.left + barBox.width, x2: barBox.left + barBox.width + 6,
    y1: py, y2: py, stroke: '#1c1c1c', 'stroke-width': 1.2
  });
  
  
  const label = make(colorbarRoot, 'text', { x: 1132, y: py + 6.5, 'font-size': 17.8 });
  label.textContent = waterTickLabels[index];
  
  
});
</script>
</body>
</html>
